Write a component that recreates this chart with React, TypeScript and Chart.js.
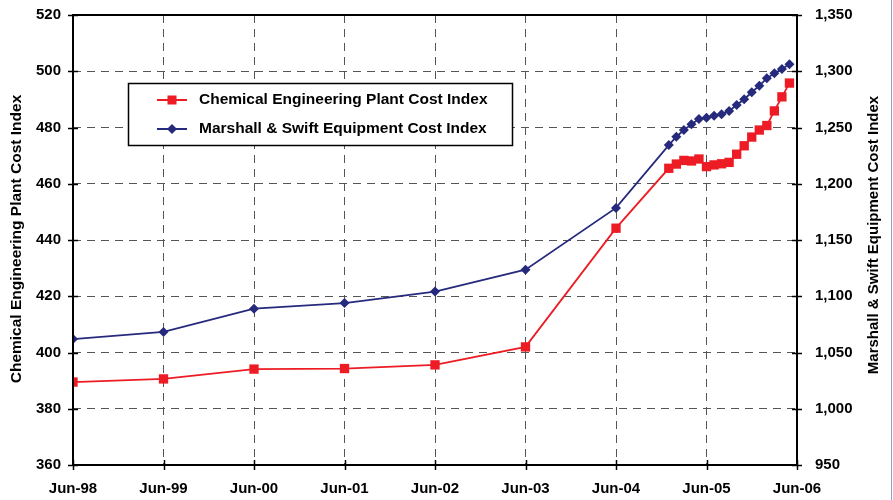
import React, { useEffect, useRef } from 'react';
import { Chart, registerables } from 'chart.js';

Chart.register(...registerables);

const xTickLabels = ['Jun-98', 'Jun-99', 'Jun-00', 'Jun-01', 'Jun-02', 'Jun-03', 'Jun-04', 'Jun-05', 'Jun-06'];

const pointDates = [
  '1998-06', '1999-06', '2000-06', '2001-06', '2002-06', '2003-06', '2004-06',
  '2005-01', '2005-02', '2005-03', '2005-04', '2005-05', '2005-06', '2005-07', '2005-08',
  '2005-09', '2005-10', '2005-11', '2005-12', '2006-01', '2006-02', '2006-03', '2006-04', '2006-05',
];

const cepciValues = [
  389.5, 390.6, 394.1, 394.3, 395.6, 402.0, 444.2,
  465.5, 467.0, 468.3, 468.1, 468.8, 466.1, 466.7, 467.1,
  467.6, 470.5, 473.5, 476.6, 479.1, 480.7, 485.9, 490.9, 495.8,
];

const msValues = [
  1061.9, 1068.3, 1089.0, 1093.9, 1104.2, 1123.6, 1178.5,
  1234.4, 1241.8, 1247.8, 1252.8, 1257.6, 1258.7, 1260.5, 1261.7,
  1264.7, 1270.0, 1275.1, 1281.3, 1287.2, 1293.7, 1298.2, 1302.0, 1306.2,
];

const cepciLabel = 'Chemical Engineering Plant Cost Index';
const msLabel = 'Marshall & Swift Equipment Cost Index';

const RED = '#ed1c24';
const BLUE = '#262a7c';
const FONT = '"Liberation Sans", Arial, sans-serif';

const monthIndex = (d: string) => {
  const [y, m] = d.split('-').map(Number);
  return (y - 1998) * 12 + (m - 6);
};

const decorPlugin = {
  id: 'decor',
  afterDraw(chart: any) {
    const { ctx, chartArea: a, scales } = chart;
    ctx.save();
    // frame
    ctx.strokeStyle = '#000';
    ctx.lineWidth = 2;
    ctx.setLineDash([]);
    ctx.strokeRect(a.left, a.top, a.right - a.left, a.bottom - a.top);
    // crossing tick marks
    ctx.lineWidth = 1.5;
    const tl = 5;
    scales.y.ticks.forEach((t: any) => {
      const py = Math.round(scales.y.getPixelForValue(t.value)) + 0.5;
      ctx.beginPath();
      ctx.moveTo(a.left - tl, py);
      ctx.lineTo(a.left + tl, py);
      ctx.stroke();
    });
    scales.y1.ticks.forEach((t: any) => {
      const py = Math.round(scales.y1.getPixelForValue(t.value)) + 0.5;
      ctx.beginPath();
      ctx.moveTo(a.right - tl, py);
      ctx.lineTo(a.right + tl, py);
      ctx.stroke();
    });
    scales.x.ticks.forEach((t: any) => {
      const px = Math.round(scales.x.getPixelForValue(t.value)) + 0.5;
      ctx.beginPath();
      ctx.moveTo(px, a.bottom - tl);
      ctx.lineTo(px, a.bottom + tl);
      ctx.stroke();
    });
    // axis titles (both read bottom-to-top)
    ctx.fillStyle = '#000';
    ctx.textAlign = 'center';
    ctx.textBaseline = 'middle';
    ctx.save();
    ctx.font = `bold 15.5px ${FONT}`;
    ctx.translate(17, 239);
    ctx.rotate(-Math.PI / 2);
    ctx.fillText(cepciLabel, 0, 0);
    ctx.restore();
    ctx.save();
    ctx.font = `bold 15px ${FONT}`;
    ctx.translate(874, 235);
    ctx.rotate(-Math.PI / 2);
    ctx.fillText(msLabel, 0, 0);
    ctx.restore();
    // legend
    const lx = 128, ly = 83, lw = 384, lh = 62;
    ctx.fillStyle = '#fff';
    ctx.fillRect(lx, ly, lw, lh);
    ctx.strokeStyle = '#000';
    ctx.lineWidth = 1.5;
    ctx.strokeRect(lx + 0.5, ly + 0.5, lw, lh);
    const rows = [
      { label: cepciLabel, color: RED, y: 100, square: true },
      { label: msLabel, color: BLUE, y: 129, square: false },
    ];
    rows.forEach((r) => {
      ctx.strokeStyle = r.color;
      ctx.lineWidth = 2;
      ctx.beginPath();
      ctx.moveTo(157, r.y);
      ctx.lineTo(187, r.y);
      ctx.stroke();
      ctx.fillStyle = r.color;
      if (r.square) {
        ctx.fillRect(172 - 4.5, r.y - 4.5, 9, 9);
      } else {
        ctx.beginPath();
        ctx.moveTo(172, r.y - 5);
        ctx.lineTo(177, r.y);
        ctx.lineTo(172, r.y + 5);
        ctx.lineTo(167, r.y);
        ctx.closePath();
        ctx.fill();
      }
      ctx.fillStyle = '#000';
      ctx.font = `bold 15.5px ${FONT}`;
      ctx.textAlign = 'left';
      ctx.textBaseline = 'middle';
      ctx.fillText(r.label, 199, r.y);
    });
    // faint right border line
    ctx.strokeStyle = '#9a9ad2';
    ctx.lineWidth = 1;
    ctx.beginPath();
    ctx.moveTo(891.5, 0);
    ctx.lineTo(891.5, 500);
    ctx.stroke();
    ctx.restore();
  },
};

export default function App() {
  const ref = useRef<HTMLCanvasElement | null>(null);

  useEffect(() => {
    if (!ref.current) return;
    const xs = pointDates.map(monthIndex);
    const chart = new Chart(ref.current, {
      type: 'line',
      data: {
        datasets: [
          {
            label: cepciLabel,
            data: xs.map((x, i) => ({ x, y: cepciValues[i] })),
            borderColor: RED,
            backgroundColor: RED,
            borderWidth: 1.8,
            pointStyle: 'rect',
            pointRadius: 6.6,
            pointBorderWidth: 0,
            yAxisID: 'y',
            order: 2,
          },
          {
            label: msLabel,
            data: xs.map((x, i) => ({ x, y: msValues[i] })),
            borderColor: BLUE,
            backgroundColor: BLUE,
            borderWidth: 1.8,
            pointStyle: 'rectRot',
            pointRadius: 5,
            pointBorderWidth: 0,
            yAxisID: 'y1',
            order: 1,
          },
        ],
      },
      options: {
        responsive: false,
        animation: false,
        layout: { padding: { top: 15, left: 0, right: 0, bottom: 0 } },
        plugins: {
          legend: { display: false },
          tooltip: { enabled: false },
        },
        scales: {
          x: {
            type: 'linear',
            min: 0,
            max: 96,
            afterFit: (s: any) => { s.height = 35; },
            afterBuildTicks: (s: any) => {
              s.ticks = xTickLabels.map((_, i) => ({ value: i * 12 }));
            },
            ticks: {
              autoSkip: false,
              maxRotation: 0,
              padding: 15,
              color: '#000',
              font: { family: FONT, size: 15, weight: 'bold' },
              callback: (v: any) => xTickLabels[Math.round(Number(v) / 12)] ?? '',
            },
            grid: { color: '#555', lineWidth: 1, drawTicks: false },
            border: { display: false, dash: [8, 6] },
          },
          y: {
            position: 'left',
            min: 360,
            max: 520,
            afterFit: (s: any) => { s.width = 73; },
            ticks: {
              stepSize: 20,
              padding: 0,
              color: '#000',
              font: { family: FONT, size: 15, weight: 'bold' },
            },
            grid: { color: '#555', lineWidth: 1, drawTicks: true, tickLength: 12, tickColor: 'rgba(0,0,0,0)' },
            border: { display: false, dash: [8, 6] },
          },
          y1: {
            position: 'right',
            min: 950,
            max: 1350,
            afterFit: (s: any) => { s.width = 96; },
            ticks: {
              stepSize: 50,
              padding: 0,
              color: '#000',
              font: { family: FONT, size: 15, weight: 'bold' },
              callback: (v: any) => Number(v).toLocaleString('en-US'),
            },
            grid: { drawOnChartArea: false, drawTicks: true, tickLength: 18, tickColor: 'rgba(0,0,0,0)' },
            border: { display: false },
          },
        },
      },
      plugins: [decorPlugin],
    });
    return () => chart.destroy();
  }, []);

  return (
    <div style={{ position: 'absolute', left: 0, top: 0, width: 893, height: 500, background: '#fff' }}>
      <canvas ref={ref} width={893} height={500} />
    </div>
  );
}
